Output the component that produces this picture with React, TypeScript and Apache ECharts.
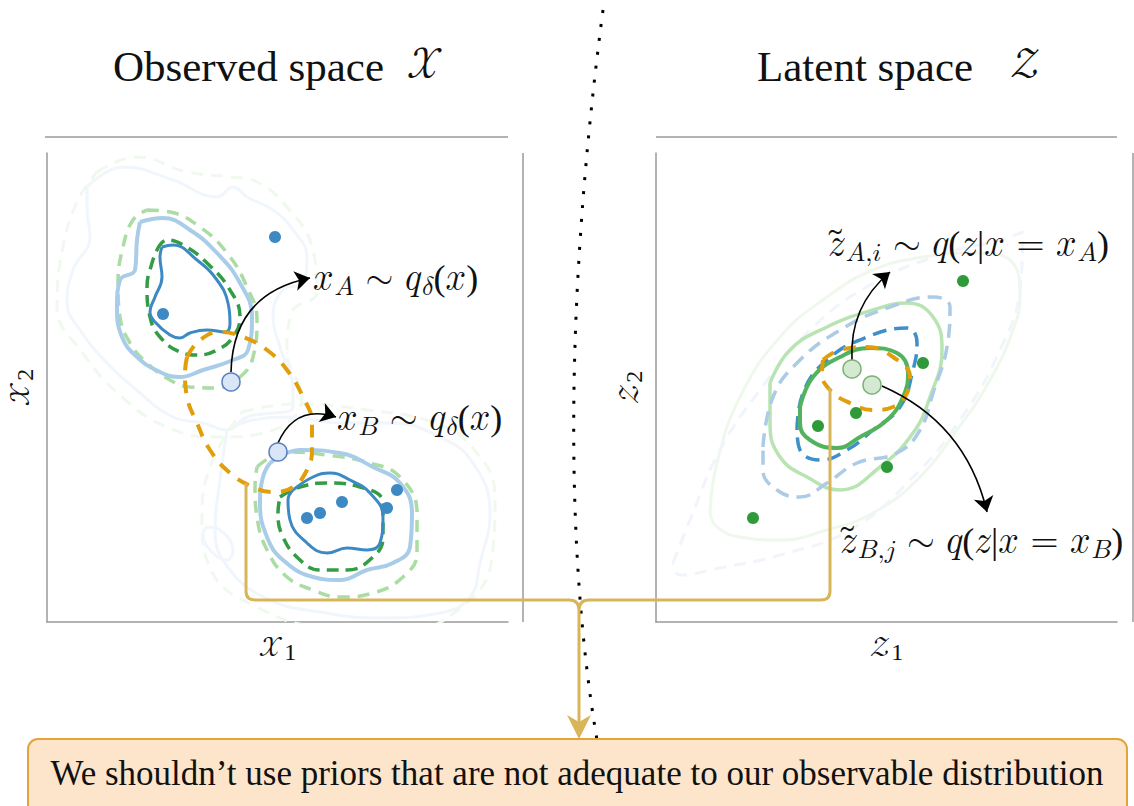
import React, { useEffect, useRef } from 'react';
import * as echarts from 'echarts';

// ---------- Observed space (left panel) ----------
const obsUpperFaintBlue = [[4.0,43.5],[7.6,45.5],[12.6,44.2],[17.0,42.5],[18.6,43.5],[20.0,42.5],[22.6,41.2],[24.6,39.2],[26.0,36.5],[25.6,33.9],[23.6,33.2],[22.6,30.5],[23.3,27.5],[24.6,23.2],[24.6,21.5],[20.0,20.5],[18.0,19.2],[15.6,19.9],[12.6,20.5],[9.3,22.9],[6.0,25.9],[3.3,29.2],[2.0,31.9],[2.6,35.2],[4.3,38.5],[4.0,41.5],[4.0,43.5]];
const obsUpperFaintGreen = [[5.0,45.0],[9.0,46.5],[14.0,45.0],[18.5,44.5],[21.0,44.0],[24.0,41.5],[26.5,37.5],[27.0,33.0],[24.5,31.0],[24.0,27.0],[25.5,22.5],[22.0,19.0],[17.0,18.5],[12.0,19.5],[7.5,22.5],[3.5,27.0],[1.0,31.5],[1.5,37.0],[3.0,42.0],[5.0,45.0]];
const obsUpperLightGreen = [[10.0,41.2],[12.3,41.0],[15.3,39.5],[18.0,36.9],[20.0,33.5],[21.0,30.2],[20.6,26.5],[19.3,24.5],[17.0,23.4],[14.3,23.5],[12.3,24.2],[10.0,25.9],[8.3,27.9],[7.3,30.5],[7.1,33.9],[7.6,37.5],[8.6,40.2],[10.0,41.2]];
const obsUpperLightBlue = [[9.3,40.0],[11.6,40.4],[14.3,39.2],[17.0,36.9],[19.3,33.9],[20.5,30.5],[20.1,27.2],[18.6,26.2],[15.6,25.2],[13.3,24.5],[11.3,25.0],[9.0,26.5],[7.5,28.5],[7.0,31.5],[7.3,34.2],[8.8,35.2],[9.0,38.2],[9.3,40.0]];
const obsUpperDarkGreen = [[11.0,37.2],[12.0,38.2],[13.6,37.7],[16.0,35.9],[18.3,33.2],[19.3,30.5],[18.6,28.5],[17.0,27.2],[15.0,26.7],[13.3,27.0],[11.3,28.5],[10.3,30.5],[10.0,33.5],[10.5,35.9],[11.0,37.2]];
const obsUpperBlue = [[11.5,37.5],[12.6,37.7],[15.0,36.2],[17.0,34.2],[18.1,31.9],[18.3,29.9],[17.8,29.0],[16.0,29.2],[14.3,28.9],[13.3,28.4],[12.3,28.7],[10.8,30.0],[10.3,31.0],[10.8,32.5],[11.5,34.5],[11.3,36.5],[11.5,37.5]];
const obsLowerFaintBlue = [[18.0,19.2],[20.6,20.2],[24.6,20.5],[29.3,19.9],[34.3,19.9],[39.3,18.5],[42.6,15.9],[44.3,10.9],[43.3,5.9],[42.3,2.5],[39.3,0.9],[33.3,0.4],[27.3,1.0],[22.3,2.2],[18.3,5.2],[16.8,9.2],[17.3,14.2],[18.0,19.2]];
const obsLowerFaintGreen = [[19.5,21.0],[25.0,21.8],[32.0,21.2],[38.5,20.0],[42.5,17.5],[44.8,12.5],[44.5,6.5],[41.5,1.5],[35.0,-1.0],[27.0,-0.5],[21.0,1.5],[16.5,5.0],[15.5,10.5],[16.5,16.0],[19.5,21.0]];
const obsSmallFaint = [[16.0,9.5],[17.3,9.2],[18.6,7.2],[18.0,6.2],[16.3,7.2],[15.6,8.9],[16.0,9.5]];
const obsLowerLightGreen = [[21.0,15.5],[24.0,17.0],[28.0,16.7],[32.3,15.9],[35.3,14.5],[37.0,10.9],[37.0,6.9],[35.6,4.5],[32.6,2.9],[29.3,2.5],[26.6,3.2],[24.0,4.5],[22.0,7.2],[21.0,10.5],[20.8,13.5],[21.0,15.5]];
const obsLowerLightBlue = [[22.3,15.9],[25.3,17.2],[29.3,16.9],[32.6,15.5],[35.3,13.9],[36.5,10.9],[36.3,7.5],[34.6,5.9],[32.0,5.2],[29.3,4.2],[26.6,4.5],[23.6,6.2],[22.0,8.5],[21.3,11.9],[21.6,14.5],[22.3,15.9]];
const obsLowerDarkGreen = [[23.3,12.5],[25.3,13.5],[28.0,13.9],[31.3,13.5],[33.6,11.9],[33.6,8.5],[32.6,6.5],[30.0,5.2],[27.3,5.2],[25.3,6.2],[23.6,8.5],[23.1,10.9],[23.3,12.5]];
const obsLowerBlue = [[24.6,13.2],[26.6,14.5],[28.3,14.9],[30.3,14.2],[32.3,12.9],[33.6,10.5],[33.3,7.9],[32.0,7.2],[30.0,7.4],[28.0,6.9],[26.0,7.9],[24.3,10.2],[24.1,12.2],[24.6,13.2]];
const obsOrangeRegion = [[14.0,26.5],[15.3,28.2],[17.3,29.0],[19.6,28.5],[22.0,27.2],[24.0,25.2],[25.6,22.5],[26.5,19.9],[26.5,17.2],[26.0,15.2],[24.6,13.5],[22.6,13.0],[20.6,13.5],[18.3,14.9],[16.3,17.2],[15.0,19.9],[14.0,22.5],[13.8,24.9],[14.0,26.5]];
const obsPoints = [[22.8,38.5],[11.6,30.8],[26.0,10.4],[27.3,10.9],[29.5,12.0],[34.0,11.4],[35.0,13.2]];
const obsSamples = [[18.4,24.0],[23.1,17.0]];
const obsArrowA = [[18.4,25.0],[26.3,34.4]];
const obsArrowB = [[23.1,17.9],[28.9,20.5]];

// ---------- Latent space (right panel) ----------
const latFaintGreen = [[5.4,10.9],[6.1,15.9],[8.4,22.5],[12.4,28.5],[17.1,32.5],[21.7,35.2],[26.7,36.5],[31.7,36.9],[35.7,35.9],[36.4,32.5],[35.7,29.2],[33.4,24.2],[30.1,19.2],[26.1,14.2],[21.7,10.9],[17.1,9.2],[12.4,8.2],[8.4,8.5],[6.1,9.5],[5.4,10.9]];
const latFaintBlue = [[1.7,5.9],[3.4,10.2],[6.4,17.2],[10.4,23.2],[15.4,29.2],[21.4,33.7],[28.4,36.7],[34.4,38.2],[36.7,39.0],[36.4,33.2],[34.4,27.2],[30.4,20.2],[25.4,14.2],[19.4,9.2],[12.4,6.7],[6.4,5.4],[2.4,4.7],[1.7,5.9]];
const latLightGreen = [[11.4,23.9],[13.4,27.2],[17.1,29.5],[21.7,31.2],[25.1,31.9],[27.7,30.5],[28.6,27.2],[27.4,22.5],[25.7,18.9],[22.4,15.5],[18.4,13.2],[15.1,14.5],[12.4,16.5],[11.4,19.9],[11.4,23.9]];
const latLightBlue = [[10.7,17.5],[11.7,22.5],[14.1,25.9],[18.4,29.2],[23.4,31.5],[27.7,32.5],[29.4,31.5],[29.1,27.5],[27.7,22.9],[26.4,19.2],[24.1,16.9],[20.1,15.9],[17.1,13.9],[14.4,12.5],[12.1,13.2],[10.7,15.2],[10.7,17.5]];
const latBlue = [[14.1,19.2],[14.7,22.9],[17.1,26.2],[21.1,28.5],[25.1,29.4],[26.1,27.9],[25.7,25.2],[24.4,21.5],[21.7,19.2],[19.1,17.2],[16.4,16.2],[14.4,17.2],[14.1,19.2]];
const latGreen = [[14.4,21.5],[15.7,24.5],[18.4,26.5],[21.4,27.4],[24.1,26.9],[25.2,24.9],[24.7,22.5],[23.1,20.2],[20.4,18.5],[18.1,17.4],[15.4,18.2],[14.4,19.9],[14.4,21.5]];
const latOrangeRegion = [[16.7,26.2],[18.4,27.2],[21.1,27.5],[23.7,26.5],[25.4,24.5],[25.1,22.9],[23.7,21.5],[21.7,21.2],[19.4,21.9],[17.4,23.2],[16.6,24.9],[16.7,26.2]];
const latPoints = [[30.7,34.1],[26.7,25.9],[20.0,20.9],[16.2,19.6],[23.1,15.5],[9.7,10.4]];
const latSamples = [[19.6,25.3],[21.6,23.7]];
const latArrowA = [[19.6,26.2],[23.4,35.0]];
const latArrowB = [[22.6,23.6],[33.1,11.0]];

const axisRangeX = [0, 46.1];
const axisRangeY = [0, 46.9];

const titles = ['Observed space', 'Latent space'];
const spaceSymbols = ['𝒳', '𝒵'];
const message = 'We shouldn’t use priors that are not adequate to our observable distribution';

echarts.graphic.registerShape('dotcurve', echarts.graphic.extendPath('M603,10 C565,300 565,550 597,740', {}));
echarts.graphic.registerShape('goldconn', echarts.graphic.extendPath('M246,483 L246,591 Q246,600 255,600 L569,600 Q579,600 579,610 M830,388 L830,591 Q830,600 821,600 L589,600 Q579,600 579,610 L579,724', {}));

const SERIF = 'Liberation Serif';
const MATH = "'Latin Modern Math', 'STIX Two Math', 'DejaVu Serif', 'Liberation Serif', serif";
const tok = (size: number, extra: any = {}) => ({
  fontFamily: MATH, fontSize: size, fill: '#111', color: '#111', verticalAlign: 'middle', ...extra,
});
const mathRich = (size: number) => ({
  v: tok(size, { lineHeight: size * 1.4 }),
  n: tok(size, { lineHeight: size * 1.4, fontFamily: SERIF }),
  r: tok(size, { lineHeight: size * 1.4, padding: [0, size * 0.32, 0, size * 0.32] }),
  s: tok(Math.round(size * 0.72), { lineHeight: Math.round(size * 0.72), padding: [Math.round(size * 0.5), 0, 0, 1] }),
});

function contour(data: number[][], grid: number, color: string, width: number, dash: any, z = 2) {
  return {
    type: 'line', xAxisIndex: grid, yAxisIndex: grid, data, smooth: 0.45, symbol: 'none', silent: true, z,
    lineStyle: { color, width, type: dash, cap: 'butt' },
  };
}
function arrow(coords: number[][], grid: number, curveness: number) {
  return {
    type: 'lines', coordinateSystem: 'cartesian2d', xAxisIndex: grid, yAxisIndex: grid, z: 6, silent: true,
    symbol: ['none', 'arrow'], symbolSize: [11, 15],
    lineStyle: { color: '#000', width: 1.6, curveness, opacity: 1 },
    data: [{ coords }],
  };
}
function dots(data: number[][], grid: number, size: number, fill: string, border?: string, z = 7) {
  return {
    type: 'scatter', xAxisIndex: grid, yAxisIndex: grid, data, symbolSize: size, silent: true, z,
    itemStyle: { color: fill, borderColor: border || fill, borderWidth: border ? 1.5 : 0, opacity: 1 },
  };
}

function axisName(letter: string, idx: string) {
  return `{s|${letter}}{n|${idx}}`;
}
const axisNameStyle = {
  fontFamily: SERIF,
  rich: {
    s: { fontFamily: MATH, fontSize: 28, color: '#111' },
    n: { fontFamily: SERIF, fontSize: 24, color: '#111', padding: [10, 0, 0, 1] },
  },
};

function mathText(x: number, y: number, text: string) {
  return {
    type: 'text', z: 81, x, y,
    style: { text, rich: mathRich(36), fontFamily: MATH, fontSize: 36, fill: '#111', align: 'left', verticalAlign: 'middle' },
  };
}

export default function App() {
  const ref = useRef<HTMLDivElement>(null);
  useEffect(() => {
    if (!ref.current) return;
    const chart = echarts.init(ref.current, null, { renderer: 'svg' });
    const axisLine = { show: true, lineStyle: { color: '#9a9a9a', width: 1.5 } };
    const mkX = (grid: number, name: string) => ({
      gridIndex: grid, type: 'value', min: axisRangeX[0], max: axisRangeX[1],
      axisLine, axisTick: { show: false }, axisLabel: { show: false }, splitLine: { show: false },
      name, nameLocation: 'middle', nameGap: 8, nameTextStyle: { ...axisNameStyle, verticalAlign: 'top' },
    });
    const mkY = (grid: number, name: string) => ({
      gridIndex: grid, type: 'value', min: axisRangeY[0], max: axisRangeY[1],
      axisLine, axisTick: { show: false }, axisLabel: { show: false }, splitLine: { show: false },
      name, nameLocation: 'middle', nameGap: 10, nameTextStyle: { ...axisNameStyle },
    });
    const option: any = {
      animation: false,
      backgroundColor: '#ffffff',
      grid: [
        { left: 47, top: 153, width: 461, height: 469 },
        { left: 656, top: 153, width: 461, height: 469 },
      ],
      xAxis: [mkX(0, axisName(spaceSymbols[0], '1')), mkX(1, axisName(spaceSymbols[1], '1'))],
      yAxis: [mkY(0, axisName(spaceSymbols[0], '2')), mkY(1, axisName(spaceSymbols[1], '2'))],
      series: [
        contour(obsUpperFaintBlue, 0, '#f0f6fc', 3, 'solid', 1),
        contour(obsUpperFaintGreen, 0, '#f0f9ee', 3, [12, 8], 1),
        contour(obsLowerFaintBlue, 0, '#f0f6fc', 3, 'solid', 1),
        contour(obsLowerFaintGreen, 0, '#f0f9ee', 3, [12, 8], 1),
        contour(obsSmallFaint, 0, '#f0f6fc', 3, 'solid', 1),
        contour(obsUpperLightGreen, 0, '#aadca4', 3.5, [12, 8]),
        contour(obsUpperLightBlue, 0, '#a9cde8', 4, 'solid'),
        contour(obsUpperDarkGreen, 0, '#339c45', 3.5, [12, 7]),
        contour(obsUpperBlue, 0, '#3d89c3', 3, 'solid'),
        contour(obsLowerLightGreen, 0, '#aadca4', 3.5, [12, 8]),
        contour(obsLowerLightBlue, 0, '#a9cde8', 4, 'solid'),
        contour(obsLowerDarkGreen, 0, '#339c45', 3.5, [12, 7]),
        contour(obsLowerBlue, 0, '#3d89c3', 3, 'solid'),
        contour(obsOrangeRegion, 0, '#e09e0a', 4, [13, 10], 4),
        arrow(obsArrowA, 0, 0.4),
        arrow(obsArrowB, 0, 0.45),
        dots(obsPoints, 0, 12, '#3d89c3'),
        dots(obsSamples, 0, 18, '#d8e6f8', '#5b7dbd', 8),

        contour(latFaintGreen, 1, '#eff8ed', 3, 'solid', 1),
        contour(latFaintBlue, 1, '#f0f5fb', 3, [12, 8], 1),
        contour(latLightGreen, 1, '#b9e3b2', 3.5, 'solid'),
        contour(latLightBlue, 1, '#abcbe6', 3.5, [14, 8]),
        contour(latBlue, 1, '#3f8fca', 3.5, [14, 8]),
        contour(latGreen, 1, '#52b35e', 4, 'solid'),
        contour(latOrangeRegion, 1, '#e09e0a', 4, [13, 10], 4),
        arrow(latArrowA, 1, 0.25),
        arrow(latArrowB, 1, 0.25),
        dots(latPoints, 1, 12, '#2e9a3a'),
        dots(latSamples, 1, 18, '#d5e9d2', '#78b272', 8),
      ],
      graphic: [
        { type: 'line', z: 50, shape: { x1: 45, y1: 137, x2: 508, y2: 137 }, style: { stroke: '#9a9a9a', lineWidth: 1.5 } },
        { type: 'line', z: 50, shape: { x1: 656, y1: 137, x2: 1117, y2: 137 }, style: { stroke: '#9a9a9a', lineWidth: 1.5 } },
        { type: 'line', z: 50, shape: { x1: 523, y1: 153, x2: 523, y2: 622 }, style: { stroke: '#9a9a9a', lineWidth: 1.5 } },
        { type: 'line', z: 50, shape: { x1: 1133, y1: 153, x2: 1133, y2: 622 }, style: { stroke: '#9a9a9a', lineWidth: 1.5 } },
        { type: 'dotcurve', z: 60, x: 0, y: 0, style: { stroke: '#000', fill: 'none', lineWidth: 3, lineDash: [3, 11] } },
        { type: 'goldconn', z: 70, x: 0, y: 0, style: { stroke: '#d9b55a', fill: 'none', lineWidth: 3 } },
        { type: 'polygon', z: 71, shape: { points: [[567, 715], [579, 722], [591, 715], [579, 739]] }, style: { fill: '#d9b55a' } },
        { type: 'rect', z: 80, shape: { x: 28, y: 739, width: 1099, height: 90, r: 10 }, style: { fill: '#fde5cc', stroke: '#e2a43b', lineWidth: 2 } },
        { type: 'text', z: 81, x: 577, y: 773, style: { text: message, fontFamily: SERIF, fontSize: 35, fill: '#111', align: 'center', verticalAlign: 'middle' } },
        { type: 'text', z: 81, x: 113, y: 66, style: { text: titles[0], fontFamily: SERIF, fontSize: 43, fill: '#111', align: 'left', verticalAlign: 'middle' } },
        { type: 'text', z: 81, x: 425, y: 64, style: { text: spaceSymbols[0], fontFamily: MATH, fontSize: 42, fill: '#111', align: 'center', verticalAlign: 'middle' } },
        { type: 'text', z: 81, x: 757, y: 66, style: { text: titles[1], fontFamily: SERIF, fontSize: 43, fill: '#111', align: 'left', verticalAlign: 'middle' } },
        { type: 'text', z: 81, x: 1025, y: 64, style: { text: spaceSymbols[1], fontFamily: MATH, fontSize: 42, fill: '#111', align: 'center', verticalAlign: 'middle' } },
        mathText(313, 278, '{v|𝑥}{s|𝐴}{r|∼}{v|𝑞}{s|𝛿}{n|(}{v|𝑥}{n|)}'),
        mathText(337, 418, '{v|𝑥}{s|𝐵}{r|∼}{v|𝑞}{s|𝛿}{n|(}{v|𝑥}{n|)}'),
        mathText(828, 244, '{v|𝑧\u0303}{s|𝐴,𝑖}{r|∼}{v|𝑞}{n|(}{v|𝑧}{n||}{v|𝑥}{r|=}{v|𝑥}{s|𝐴}{n|)}'),
        mathText(840, 541, '{v|𝑧\u0303}{s|𝐵,𝑗}{r|∼}{v|𝑞}{n|(}{v|𝑧}{n||}{v|𝑥}{r|=}{v|𝑥}{s|𝐵}{n|)}'),
      ],
    };
    chart.setOption(option);
    return () => chart.dispose();
  }, []);
  return <div ref={ref} style={{ position: 'absolute', left: 0, top: 0, width: 1134, height: 806 }} />;
}
